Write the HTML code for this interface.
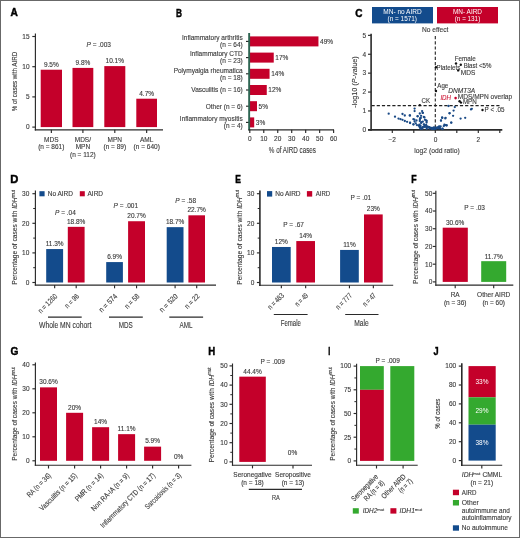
<!DOCTYPE html>
<html><head><meta charset="utf-8"><style>
html,body{margin:0;padding:0;background:#fff;}
svg{display:block;font-family:"Liberation Sans", sans-serif;will-change:transform;}
</style></head><body>
<svg width="520" height="538" viewBox="0 0 520 538">
<rect x="0" y="0" width="520" height="538" fill="#fff"/>
<text transform="translate(10.52 16.13) scale(1.010 1)" x="0" y="0" font-size="10.04" font-weight="bold" fill="#000" stroke="#000" stroke-width="0.45">A</text>
<line x1="35.40" y1="33.50" x2="35.40" y2="130.40" stroke="#2a2a2a" stroke-width="1.15"/>
<line x1="32.30" y1="127.10" x2="35.40" y2="127.10" stroke="#2a2a2a" stroke-width="1.15"/>
<text x="29.60" y="129.44" font-size="6.5" text-anchor="end" fill="#3a3a3a" stroke="#3a3a3a" stroke-width="0.12">0</text>
<line x1="32.30" y1="96.90" x2="35.40" y2="96.90" stroke="#2a2a2a" stroke-width="1.15"/>
<text x="29.60" y="99.24" font-size="6.5" text-anchor="end" fill="#3a3a3a" stroke="#3a3a3a" stroke-width="0.12">5</text>
<line x1="32.30" y1="66.70" x2="35.40" y2="66.70" stroke="#2a2a2a" stroke-width="1.15"/>
<text x="29.60" y="69.04" font-size="6.5" text-anchor="end" fill="#3a3a3a" stroke="#3a3a3a" stroke-width="0.12">10</text>
<line x1="32.30" y1="36.50" x2="35.40" y2="36.50" stroke="#2a2a2a" stroke-width="1.15"/>
<text x="29.60" y="38.84" font-size="6.5" text-anchor="end" fill="#3a3a3a" stroke="#3a3a3a" stroke-width="0.12">15</text>
<text x="14.50" y="84.30" font-size="7.5" text-anchor="middle" fill="#3a3a3a" stroke="#3a3a3a" stroke-width="0.12" textLength="59.50" lengthAdjust="spacingAndGlyphs" transform="rotate(-90 14.50 81.60)">% of cases with AIRD</text>
<line x1="34.80" y1="129.85" x2="163.00" y2="129.85" stroke="#2a2a2a" stroke-width="1.15"/>
<rect x="40.70" y="69.72" width="21.30" height="57.38" fill="#C4002A"/>
<line x1="51.35" y1="129.85" x2="51.35" y2="132.90" stroke="#2a2a2a" stroke-width="1.15"/>
<text x="51.35" y="66.56" font-size="6.5" text-anchor="middle" fill="#3a3a3a" stroke="#3a3a3a" stroke-width="0.12">9.5%</text>
<rect x="72.50" y="67.91" width="20.80" height="59.19" fill="#C4002A"/>
<line x1="82.90" y1="129.85" x2="82.90" y2="132.90" stroke="#2a2a2a" stroke-width="1.15"/>
<text x="82.90" y="64.75" font-size="6.5" text-anchor="middle" fill="#3a3a3a" stroke="#3a3a3a" stroke-width="0.12">9.8%</text>
<rect x="104.30" y="66.10" width="21.00" height="61.00" fill="#C4002A"/>
<line x1="114.80" y1="129.85" x2="114.80" y2="132.90" stroke="#2a2a2a" stroke-width="1.15"/>
<text x="114.80" y="62.94" font-size="6.5" text-anchor="middle" fill="#3a3a3a" stroke="#3a3a3a" stroke-width="0.12">10.1%</text>
<rect x="136.30" y="98.71" width="20.70" height="28.39" fill="#C4002A"/>
<line x1="146.65" y1="129.85" x2="146.65" y2="132.90" stroke="#2a2a2a" stroke-width="1.15"/>
<text x="146.65" y="95.55" font-size="6.5" text-anchor="middle" fill="#3a3a3a" stroke="#3a3a3a" stroke-width="0.12">4.7%</text>
<text x="51.30" y="141.74" font-size="6.5" text-anchor="middle" fill="#3a3a3a" stroke="#3a3a3a" stroke-width="0.12">MDS</text>
<text x="51.30" y="149.04" font-size="6.5" text-anchor="middle" fill="#3a3a3a" stroke="#3a3a3a" stroke-width="0.12">(n = 861)</text>
<text x="82.90" y="141.74" font-size="6.5" text-anchor="middle" fill="#3a3a3a" stroke="#3a3a3a" stroke-width="0.12">MDS/</text>
<text x="82.90" y="149.04" font-size="6.5" text-anchor="middle" fill="#3a3a3a" stroke="#3a3a3a" stroke-width="0.12">MPN</text>
<text x="82.90" y="156.54" font-size="6.5" text-anchor="middle" fill="#3a3a3a" stroke="#3a3a3a" stroke-width="0.12">(n = 112)</text>
<text x="114.80" y="141.74" font-size="6.5" text-anchor="middle" fill="#3a3a3a" stroke="#3a3a3a" stroke-width="0.12">MPN</text>
<text x="114.80" y="149.04" font-size="6.5" text-anchor="middle" fill="#3a3a3a" stroke="#3a3a3a" stroke-width="0.12">(n = 89)</text>
<text x="146.70" y="141.74" font-size="6.5" text-anchor="middle" fill="#3a3a3a" stroke="#3a3a3a" stroke-width="0.12">AML</text>
<text x="146.70" y="149.04" font-size="6.5" text-anchor="middle" fill="#3a3a3a" stroke="#3a3a3a" stroke-width="0.12">(n = 640)</text>
<text x="98.75" y="46.84" font-size="6.5" text-anchor="middle" fill="#3a3a3a" stroke="#3a3a3a" stroke-width="0.12"><tspan font-style="italic">P</tspan> = .003</text>
<text transform="translate(175.96 16.53) scale(0.755 1)" x="0" y="0" font-size="10.99" font-weight="bold" fill="#000" stroke="#000" stroke-width="0.45">B</text>
<rect x="250.00" y="36.40" width="68.45" height="10.00" fill="#C4002A"/>
<line x1="246.00" y1="41.40" x2="249.00" y2="41.40" stroke="#2a2a2a" stroke-width="1.15"/>
<text x="320.05" y="43.74" font-size="6.5" text-anchor="start" fill="#3a3a3a" stroke="#3a3a3a" stroke-width="0.12">49%</text>
<text x="242.70" y="40.24" font-size="6.5" text-anchor="end" fill="#3a3a3a" stroke="#3a3a3a" stroke-width="0.12">Inflammatory arthritis</text>
<text x="242.70" y="47.24" font-size="6.5" text-anchor="end" fill="#3a3a3a" stroke="#3a3a3a" stroke-width="0.12">(n = 64)</text>
<rect x="250.00" y="52.60" width="23.75" height="10.00" fill="#C4002A"/>
<line x1="246.00" y1="57.60" x2="249.00" y2="57.60" stroke="#2a2a2a" stroke-width="1.15"/>
<text x="275.35" y="59.94" font-size="6.5" text-anchor="start" fill="#3a3a3a" stroke="#3a3a3a" stroke-width="0.12">17%</text>
<text x="242.70" y="56.44" font-size="6.5" text-anchor="end" fill="#3a3a3a" stroke="#3a3a3a" stroke-width="0.12">Inflammatory CTD</text>
<text x="242.70" y="63.44" font-size="6.5" text-anchor="end" fill="#3a3a3a" stroke="#3a3a3a" stroke-width="0.12">(n = 23)</text>
<rect x="250.00" y="68.80" width="19.56" height="10.00" fill="#C4002A"/>
<line x1="246.00" y1="73.80" x2="249.00" y2="73.80" stroke="#2a2a2a" stroke-width="1.15"/>
<text x="271.16" y="76.14" font-size="6.5" text-anchor="start" fill="#3a3a3a" stroke="#3a3a3a" stroke-width="0.12">14%</text>
<text x="242.70" y="72.64" font-size="6.5" text-anchor="end" fill="#3a3a3a" stroke="#3a3a3a" stroke-width="0.12">Polymyalgia rheumatica</text>
<text x="242.70" y="79.64" font-size="6.5" text-anchor="end" fill="#3a3a3a" stroke="#3a3a3a" stroke-width="0.12">(n = 18)</text>
<rect x="250.00" y="85.00" width="16.76" height="10.00" fill="#C4002A"/>
<line x1="246.00" y1="90.00" x2="249.00" y2="90.00" stroke="#2a2a2a" stroke-width="1.15"/>
<text x="268.36" y="92.34" font-size="6.5" text-anchor="start" fill="#3a3a3a" stroke="#3a3a3a" stroke-width="0.12">12%</text>
<text x="242.70" y="92.34" font-size="6.5" text-anchor="end" fill="#3a3a3a" stroke="#3a3a3a" stroke-width="0.12">Vasculitis (n = 16)</text>
<rect x="250.00" y="101.20" width="6.99" height="10.00" fill="#C4002A"/>
<line x1="246.00" y1="106.20" x2="249.00" y2="106.20" stroke="#2a2a2a" stroke-width="1.15"/>
<text x="258.59" y="108.54" font-size="6.5" text-anchor="start" fill="#3a3a3a" stroke="#3a3a3a" stroke-width="0.12">5%</text>
<text x="242.70" y="108.54" font-size="6.5" text-anchor="end" fill="#3a3a3a" stroke="#3a3a3a" stroke-width="0.12">Other (n = 6)</text>
<rect x="250.00" y="117.40" width="4.19" height="10.00" fill="#C4002A"/>
<line x1="246.00" y1="122.40" x2="249.00" y2="122.40" stroke="#2a2a2a" stroke-width="1.15"/>
<text x="255.79" y="124.74" font-size="6.5" text-anchor="start" fill="#3a3a3a" stroke="#3a3a3a" stroke-width="0.12">3%</text>
<text x="242.70" y="121.24" font-size="6.5" text-anchor="end" fill="#3a3a3a" stroke="#3a3a3a" stroke-width="0.12">Inflammatory myositis</text>
<text x="242.70" y="128.24" font-size="6.5" text-anchor="end" fill="#3a3a3a" stroke="#3a3a3a" stroke-width="0.12">(n = 4)</text>
<line x1="249.15" y1="33.00" x2="249.15" y2="130.50" stroke="#2d6552" stroke-width="1.9"/>
<line x1="248.50" y1="129.85" x2="334.00" y2="129.85" stroke="#2a2a2a" stroke-width="1.15"/>
<line x1="249.80" y1="129.85" x2="249.80" y2="132.90" stroke="#2a2a2a" stroke-width="1.15"/>
<text x="249.80" y="141.34" font-size="6.5" text-anchor="middle" fill="#3a3a3a" stroke="#3a3a3a" stroke-width="0.12">0</text>
<line x1="263.77" y1="129.85" x2="263.77" y2="132.90" stroke="#2a2a2a" stroke-width="1.15"/>
<text x="263.77" y="141.34" font-size="6.5" text-anchor="middle" fill="#3a3a3a" stroke="#3a3a3a" stroke-width="0.12">10</text>
<line x1="277.74" y1="129.85" x2="277.74" y2="132.90" stroke="#2a2a2a" stroke-width="1.15"/>
<text x="277.74" y="141.34" font-size="6.5" text-anchor="middle" fill="#3a3a3a" stroke="#3a3a3a" stroke-width="0.12">20</text>
<line x1="291.71" y1="129.85" x2="291.71" y2="132.90" stroke="#2a2a2a" stroke-width="1.15"/>
<text x="291.71" y="141.34" font-size="6.5" text-anchor="middle" fill="#3a3a3a" stroke="#3a3a3a" stroke-width="0.12">30</text>
<line x1="305.68" y1="129.85" x2="305.68" y2="132.90" stroke="#2a2a2a" stroke-width="1.15"/>
<text x="305.68" y="141.34" font-size="6.5" text-anchor="middle" fill="#3a3a3a" stroke="#3a3a3a" stroke-width="0.12">40</text>
<line x1="319.65" y1="129.85" x2="319.65" y2="132.90" stroke="#2a2a2a" stroke-width="1.15"/>
<text x="319.65" y="141.34" font-size="6.5" text-anchor="middle" fill="#3a3a3a" stroke="#3a3a3a" stroke-width="0.12">50</text>
<line x1="333.62" y1="129.85" x2="333.62" y2="132.90" stroke="#2a2a2a" stroke-width="1.15"/>
<text x="333.62" y="141.34" font-size="6.5" text-anchor="middle" fill="#3a3a3a" stroke="#3a3a3a" stroke-width="0.12">60</text>
<text x="292.40" y="153.46" font-size="8.5" text-anchor="middle" fill="#3a3a3a" stroke="#3a3a3a" stroke-width="0.12" textLength="47.20" lengthAdjust="spacingAndGlyphs">% of AIRD cases</text>
<text transform="translate(355.31 16.63) scale(0.901 1)" x="0" y="0" font-size="11.13" font-weight="bold" fill="#000" stroke="#000" stroke-width="0.45">C</text>
<rect x="372.00" y="7.00" width="61.00" height="16.40" fill="#134B8C"/>
<rect x="437.00" y="7.00" width="61.00" height="16.40" fill="#C4002A"/>
<text x="402.50" y="14.14" font-size="6.5" text-anchor="middle" fill="#fff" stroke="#fff" stroke-width="0" textLength="38.40" lengthAdjust="spacingAndGlyphs">MN- no AIRD</text>
<text x="402.30" y="20.74" font-size="6.5" text-anchor="middle" fill="#fff" stroke="#fff" stroke-width="0" textLength="29.40" lengthAdjust="spacingAndGlyphs">(n = 1571)</text>
<text x="467.50" y="14.14" font-size="6.5" text-anchor="middle" fill="#fff" stroke="#fff" stroke-width="0" textLength="29.00" lengthAdjust="spacingAndGlyphs">MN- AIRD</text>
<text x="467.50" y="20.74" font-size="6.5" text-anchor="middle" fill="#fff" stroke="#fff" stroke-width="0" textLength="25.50" lengthAdjust="spacingAndGlyphs">(n = 131)</text>
<text x="435.20" y="31.74" font-size="6.5" text-anchor="middle" fill="#3a3a3a" stroke="#3a3a3a" stroke-width="0.12" textLength="26.30" lengthAdjust="spacingAndGlyphs">No effect</text>
<line x1="371.10" y1="33.70" x2="371.10" y2="130.70" stroke="#2a2a2a" stroke-width="1.6"/>
<line x1="368.00" y1="129.85" x2="371.10" y2="129.85" stroke="#2a2a2a" stroke-width="1.15"/>
<text x="366.00" y="132.19" font-size="6.5" text-anchor="end" fill="#3a3a3a" stroke="#3a3a3a" stroke-width="0.12">0</text>
<line x1="368.00" y1="110.95" x2="371.10" y2="110.95" stroke="#2a2a2a" stroke-width="1.15"/>
<text x="366.00" y="113.29" font-size="6.5" text-anchor="end" fill="#3a3a3a" stroke="#3a3a3a" stroke-width="0.12">1</text>
<line x1="368.00" y1="92.05" x2="371.10" y2="92.05" stroke="#2a2a2a" stroke-width="1.15"/>
<text x="366.00" y="94.39" font-size="6.5" text-anchor="end" fill="#3a3a3a" stroke="#3a3a3a" stroke-width="0.12">2</text>
<line x1="368.00" y1="73.15" x2="371.10" y2="73.15" stroke="#2a2a2a" stroke-width="1.15"/>
<text x="366.00" y="75.49" font-size="6.5" text-anchor="end" fill="#3a3a3a" stroke="#3a3a3a" stroke-width="0.12">3</text>
<line x1="368.00" y1="54.25" x2="371.10" y2="54.25" stroke="#2a2a2a" stroke-width="1.15"/>
<text x="366.00" y="56.59" font-size="6.5" text-anchor="end" fill="#3a3a3a" stroke="#3a3a3a" stroke-width="0.12">4</text>
<line x1="368.00" y1="35.35" x2="371.10" y2="35.35" stroke="#2a2a2a" stroke-width="1.15"/>
<text x="366.00" y="37.69" font-size="6.5" text-anchor="end" fill="#3a3a3a" stroke="#3a3a3a" stroke-width="0.12">5</text>
<text x="354.70" y="84.52" font-size="7" text-anchor="middle" fill="#3a3a3a" stroke="#3a3a3a" stroke-width="0.12" textLength="51.50" lengthAdjust="spacingAndGlyphs" transform="rotate(-90 354.70 82.00)">-log10 (<tspan font-style="italic">P</tspan>-value)</text>
<line x1="368.00" y1="129.85" x2="502.30" y2="129.85" stroke="#2a2a2a" stroke-width="1.6"/>
<line x1="392.30" y1="129.85" x2="392.30" y2="133.00" stroke="#2a2a2a" stroke-width="1.15"/>
<line x1="413.80" y1="129.85" x2="413.80" y2="133.00" stroke="#2a2a2a" stroke-width="1.15"/>
<line x1="435.30" y1="129.85" x2="435.30" y2="133.00" stroke="#2a2a2a" stroke-width="1.15"/>
<line x1="456.80" y1="129.85" x2="456.80" y2="133.00" stroke="#2a2a2a" stroke-width="1.15"/>
<line x1="478.30" y1="129.85" x2="478.30" y2="133.00" stroke="#2a2a2a" stroke-width="1.15"/>
<line x1="499.80" y1="129.85" x2="499.80" y2="133.00" stroke="#2a2a2a" stroke-width="1.15"/>
<text x="392.30" y="142.34" font-size="6.5" text-anchor="middle" fill="#3a3a3a" stroke="#3a3a3a" stroke-width="0.12">−2</text>
<text x="435.60" y="142.34" font-size="6.5" text-anchor="middle" fill="#3a3a3a" stroke="#3a3a3a" stroke-width="0.12">0</text>
<text x="478.30" y="142.34" font-size="6.5" text-anchor="middle" fill="#3a3a3a" stroke="#3a3a3a" stroke-width="0.12">2</text>
<text x="437.00" y="153.38" font-size="8" text-anchor="middle" fill="#3a3a3a" stroke="#3a3a3a" stroke-width="0.12" textLength="45.50" lengthAdjust="spacingAndGlyphs">log2 (odd ratio)</text>
<line x1="435.30" y1="36.00" x2="435.30" y2="130.00" stroke="#222" stroke-width="1.1" stroke-dasharray="3.2 2"/>
<line x1="371.50" y1="105.60" x2="499.50" y2="105.60" stroke="#222" stroke-width="1.1" stroke-dasharray="3.2 2"/>
<circle cx="388.70" cy="113.70" r="1.15" fill="#1a4a86"/>
<circle cx="395.00" cy="116.70" r="1.15" fill="#1a4a86"/>
<circle cx="398.50" cy="118.60" r="1.15" fill="#1a4a86"/>
<circle cx="400.50" cy="119.20" r="1.15" fill="#1a4a86"/>
<circle cx="402.50" cy="119.80" r="1.15" fill="#1a4a86"/>
<circle cx="404.80" cy="121.00" r="1.15" fill="#1a4a86"/>
<circle cx="407.10" cy="121.80" r="1.15" fill="#1a4a86"/>
<circle cx="410.00" cy="122.70" r="1.15" fill="#1a4a86"/>
<circle cx="402.50" cy="114.00" r="1.15" fill="#1a4a86"/>
<circle cx="404.80" cy="115.50" r="1.15" fill="#1a4a86"/>
<circle cx="410.00" cy="115.50" r="1.15" fill="#1a4a86"/>
<circle cx="414.60" cy="108.60" r="1.15" fill="#1a4a86"/>
<circle cx="414.60" cy="111.10" r="1.15" fill="#1a4a86"/>
<circle cx="413.40" cy="119.20" r="1.15" fill="#1a4a86"/>
<circle cx="414.60" cy="121.50" r="1.15" fill="#1a4a86"/>
<circle cx="413.40" cy="124.40" r="1.15" fill="#1a4a86"/>
<circle cx="415.80" cy="123.30" r="1.15" fill="#1a4a86"/>
<circle cx="417.50" cy="116.30" r="1.15" fill="#1a4a86"/>
<circle cx="419.80" cy="113.50" r="1.15" fill="#1a4a86"/>
<circle cx="420.40" cy="118.00" r="1.15" fill="#1a4a86"/>
<circle cx="419.80" cy="121.00" r="1.15" fill="#1a4a86"/>
<circle cx="418.60" cy="125.60" r="1.15" fill="#1a4a86"/>
<circle cx="422.10" cy="111.10" r="1.15" fill="#1a4a86"/>
<circle cx="422.70" cy="112.90" r="1.15" fill="#1a4a86"/>
<circle cx="423.80" cy="116.90" r="1.15" fill="#1a4a86"/>
<circle cx="421.50" cy="122.10" r="1.15" fill="#1a4a86"/>
<circle cx="425.00" cy="119.80" r="1.15" fill="#1a4a86"/>
<circle cx="426.70" cy="121.00" r="1.15" fill="#1a4a86"/>
<circle cx="423.80" cy="124.40" r="1.15" fill="#1a4a86"/>
<circle cx="426.10" cy="125.00" r="1.15" fill="#1a4a86"/>
<circle cx="448.50" cy="106.00" r="1.15" fill="#1a4a86"/>
<circle cx="454.80" cy="107.10" r="1.15" fill="#1a4a86"/>
<circle cx="453.60" cy="110.60" r="1.15" fill="#1a4a86"/>
<circle cx="449.60" cy="113.20" r="1.15" fill="#1a4a86"/>
<circle cx="453.10" cy="115.80" r="1.15" fill="#1a4a86"/>
<circle cx="442.10" cy="117.50" r="1.15" fill="#1a4a86"/>
<circle cx="445.60" cy="117.80" r="1.15" fill="#1a4a86"/>
<circle cx="441.00" cy="120.60" r="1.15" fill="#1a4a86"/>
<circle cx="451.30" cy="122.70" r="1.15" fill="#1a4a86"/>
<circle cx="460.60" cy="118.60" r="1.15" fill="#1a4a86"/>
<circle cx="465.20" cy="117.80" r="1.15" fill="#1a4a86"/>
<circle cx="471.00" cy="109.40" r="1.15" fill="#1a4a86"/>
<circle cx="471.80" cy="108.80" r="1.15" fill="#1a4a86"/>
<circle cx="445.00" cy="125.20" r="1.15" fill="#1a4a86"/>
<circle cx="446.70" cy="125.60" r="1.15" fill="#1a4a86"/>
<circle cx="443.80" cy="126.10" r="1.15" fill="#1a4a86"/>
<circle cx="439.20" cy="127.30" r="1.15" fill="#1a4a86"/>
<circle cx="409.70" cy="115.40" r="1.15" fill="#1a4a86"/>
<circle cx="417.70" cy="116.20" r="1.15" fill="#1a4a86"/>
<circle cx="421.10" cy="115.80" r="1.15" fill="#1a4a86"/>
<circle cx="420.70" cy="117.90" r="1.15" fill="#1a4a86"/>
<circle cx="424.50" cy="117.50" r="1.15" fill="#1a4a86"/>
<circle cx="414.40" cy="119.60" r="1.15" fill="#1a4a86"/>
<circle cx="416.50" cy="120.50" r="1.15" fill="#1a4a86"/>
<circle cx="419.90" cy="119.20" r="1.15" fill="#1a4a86"/>
<circle cx="422.80" cy="121.70" r="1.15" fill="#1a4a86"/>
<circle cx="426.20" cy="120.50" r="1.15" fill="#1a4a86"/>
<circle cx="426.60" cy="122.60" r="1.15" fill="#1a4a86"/>
<circle cx="410.10" cy="123.00" r="1.15" fill="#1a4a86"/>
<circle cx="413.50" cy="124.30" r="1.15" fill="#1a4a86"/>
<circle cx="416.90" cy="125.10" r="1.15" fill="#1a4a86"/>
<circle cx="419.40" cy="124.70" r="1.15" fill="#1a4a86"/>
<circle cx="421.10" cy="123.00" r="1.15" fill="#1a4a86"/>
<circle cx="424.10" cy="124.70" r="1.15" fill="#1a4a86"/>
<circle cx="424.90" cy="126.00" r="1.15" fill="#1a4a86"/>
<circle cx="427.50" cy="126.40" r="1.15" fill="#1a4a86"/>
<circle cx="429.60" cy="127.30" r="1.15" fill="#1a4a86"/>
<circle cx="431.70" cy="128.10" r="1.15" fill="#1a4a86"/>
<circle cx="433.40" cy="127.70" r="1.15" fill="#1a4a86"/>
<circle cx="436.80" cy="127.70" r="1.15" fill="#1a4a86"/>
<circle cx="438.90" cy="126.80" r="1.15" fill="#1a4a86"/>
<circle cx="440.60" cy="126.40" r="1.15" fill="#1a4a86"/>
<circle cx="444.40" cy="124.70" r="1.15" fill="#1a4a86"/>
<circle cx="446.60" cy="125.10" r="1.15" fill="#1a4a86"/>
<circle cx="441.00" cy="120.50" r="1.15" fill="#1a4a86"/>
<circle cx="442.30" cy="117.90" r="1.15" fill="#1a4a86"/>
<circle cx="445.30" cy="118.40" r="1.15" fill="#1a4a86"/>
<circle cx="451.20" cy="122.60" r="1.15" fill="#1a4a86"/>
<circle cx="449.50" cy="113.30" r="1.15" fill="#1a4a86"/>
<circle cx="422.80" cy="112.80" r="1.15" fill="#1a4a86"/>
<circle cx="426.77" cy="128.74" r="1.15" fill="#1a4a86"/>
<circle cx="434.62" cy="129.08" r="1.15" fill="#1a4a86"/>
<circle cx="431.86" cy="128.64" r="1.15" fill="#1a4a86"/>
<circle cx="420.39" cy="126.67" r="1.15" fill="#1a4a86"/>
<circle cx="419.90" cy="126.98" r="1.15" fill="#1a4a86"/>
<circle cx="420.68" cy="128.76" r="1.15" fill="#1a4a86"/>
<circle cx="429.19" cy="127.26" r="1.15" fill="#1a4a86"/>
<circle cx="421.97" cy="128.19" r="1.15" fill="#1a4a86"/>
<circle cx="434.06" cy="127.76" r="1.15" fill="#1a4a86"/>
<circle cx="432.85" cy="128.71" r="1.15" fill="#1a4a86"/>
<circle cx="442.43" cy="129.01" r="1.15" fill="#1a4a86"/>
<circle cx="439.60" cy="128.28" r="1.15" fill="#1a4a86"/>
<circle cx="422.46" cy="128.69" r="1.15" fill="#1a4a86"/>
<circle cx="426.40" cy="126.61" r="1.15" fill="#1a4a86"/>
<circle cx="423.34" cy="126.82" r="1.15" fill="#1a4a86"/>
<circle cx="434.33" cy="128.60" r="1.15" fill="#1a4a86"/>
<circle cx="432.15" cy="129.11" r="1.15" fill="#1a4a86"/>
<circle cx="420.43" cy="128.18" r="1.15" fill="#1a4a86"/>
<circle cx="435.33" cy="128.39" r="1.15" fill="#1a4a86"/>
<circle cx="426.54" cy="127.36" r="1.15" fill="#1a4a86"/>
<circle cx="429.88" cy="128.56" r="1.15" fill="#1a4a86"/>
<circle cx="438.07" cy="127.30" r="1.15" fill="#1a4a86"/>
<circle cx="424.86" cy="127.11" r="1.15" fill="#1a4a86"/>
<circle cx="431.60" cy="127.78" r="1.15" fill="#1a4a86"/>
<circle cx="436.51" cy="128.55" r="1.15" fill="#1a4a86"/>
<circle cx="442.52" cy="128.72" r="1.15" fill="#1a4a86"/>
<circle cx="429.03" cy="127.39" r="1.15" fill="#1a4a86"/>
<circle cx="422.65" cy="127.09" r="1.15" fill="#1a4a86"/>
<circle cx="419.94" cy="125.78" r="1.15" fill="#1a4a86"/>
<circle cx="437.35" cy="127.76" r="1.15" fill="#1a4a86"/>
<circle cx="440.01" cy="128.16" r="1.15" fill="#1a4a86"/>
<circle cx="435.69" cy="128.01" r="1.15" fill="#1a4a86"/>
<circle cx="432.92" cy="128.64" r="1.15" fill="#1a4a86"/>
<circle cx="439.16" cy="126.32" r="1.15" fill="#1a4a86"/>
<circle cx="430.38" cy="127.88" r="1.15" fill="#1a4a86"/>
<circle cx="420.46" cy="125.72" r="1.15" fill="#1a4a86"/>
<circle cx="434.53" cy="127.55" r="1.15" fill="#1a4a86"/>
<circle cx="438.73" cy="128.37" r="1.15" fill="#1a4a86"/>
<circle cx="428.26" cy="127.45" r="1.15" fill="#1a4a86"/>
<circle cx="419.54" cy="126.78" r="1.15" fill="#1a4a86"/>
<circle cx="456.00" cy="63.50" r="1.2" fill="#111"/>
<circle cx="460.80" cy="64.70" r="1.2" fill="#111"/>
<circle cx="436.00" cy="67.30" r="1.2" fill="#111"/>
<circle cx="458.20" cy="70.40" r="1.2" fill="#111"/>
<circle cx="436.00" cy="91.00" r="1.2" fill="#111"/>
<circle cx="419.80" cy="105.10" r="1.2" fill="#111"/>
<circle cx="482.50" cy="110.00" r="1.2" fill="#111"/>
<circle cx="459.60" cy="101.20" r="1.2" fill="#111"/>
<circle cx="461.00" cy="102.60" r="1.2" fill="#111"/>
<circle cx="455.60" cy="98.10" r="1.3" fill="#C4002A"/>
<text x="454.70" y="61.34" font-size="6.5" text-anchor="start" fill="#3a3a3a" stroke="#3a3a3a" stroke-width="0.12" textLength="21.00" lengthAdjust="spacingAndGlyphs">Female</text>
<text x="463.70" y="67.94" font-size="6.5" text-anchor="start" fill="#3a3a3a" stroke="#3a3a3a" stroke-width="0.12" textLength="27.70" lengthAdjust="spacingAndGlyphs">Blast &lt;5%</text>
<text x="436.50" y="69.64" font-size="6.5" text-anchor="start" fill="#3a3a3a" stroke="#3a3a3a" stroke-width="0.12" textLength="23.80" lengthAdjust="spacingAndGlyphs">Platelets</text>
<text x="460.80" y="74.84" font-size="6.5" text-anchor="start" fill="#3a3a3a" stroke="#3a3a3a" stroke-width="0.12" textLength="14.50" lengthAdjust="spacingAndGlyphs">MDS</text>
<text x="437.30" y="88.14" font-size="6.5" text-anchor="start" fill="#3a3a3a" stroke="#3a3a3a" stroke-width="0.12" textLength="10.90" lengthAdjust="spacingAndGlyphs">Age</text>
<text x="448.20" y="93.04" font-size="6.5" text-anchor="start" fill="#3a3a3a" stroke="#3a3a3a" stroke-width="0.12" textLength="27.00" lengthAdjust="spacingAndGlyphs" font-style="italic">DNMT3A</text>
<text x="440.40" y="100.44" font-size="6.5" text-anchor="start" fill="#d0223f" stroke="#d0223f" stroke-width="0.12" textLength="10.70" lengthAdjust="spacingAndGlyphs" font-style="italic">IDH</text>
<text x="457.70" y="98.74" font-size="6.5" text-anchor="start" fill="#3a3a3a" stroke="#3a3a3a" stroke-width="0.12" textLength="54.50" lengthAdjust="spacingAndGlyphs">MDS/MPN overlap</text>
<text x="462.90" y="104.14" font-size="6.5" text-anchor="start" fill="#3a3a3a" stroke="#3a3a3a" stroke-width="0.12" textLength="13.80" lengthAdjust="spacingAndGlyphs">MPN</text>
<text x="484.60" y="112.04" font-size="6.5" text-anchor="start" fill="#3a3a3a" stroke="#3a3a3a" stroke-width="0.12" textLength="19.90" lengthAdjust="spacingAndGlyphs">P &lt; .05</text>
<text x="421.50" y="102.84" font-size="6.5" text-anchor="start" fill="#3a3a3a" stroke="#3a3a3a" stroke-width="0.12" textLength="8.50" lengthAdjust="spacingAndGlyphs">CK</text>
<text transform="translate(10.27 183.13) scale(1.091 1)" x="0" y="0" font-size="10.26" font-weight="bold" fill="#000" stroke="#000" stroke-width="0.45">D</text>
<line x1="35.40" y1="190.50" x2="35.40" y2="285.60" stroke="#2a2a2a" stroke-width="1.15"/>
<line x1="32.40" y1="282.50" x2="35.40" y2="282.50" stroke="#2a2a2a" stroke-width="1.15"/>
<text x="29.30" y="284.84" font-size="6.5" text-anchor="end" fill="#3a3a3a" stroke="#3a3a3a" stroke-width="0.12">0</text>
<line x1="32.40" y1="252.90" x2="35.40" y2="252.90" stroke="#2a2a2a" stroke-width="1.15"/>
<text x="29.30" y="255.24" font-size="6.5" text-anchor="end" fill="#3a3a3a" stroke="#3a3a3a" stroke-width="0.12">10</text>
<line x1="32.40" y1="223.30" x2="35.40" y2="223.30" stroke="#2a2a2a" stroke-width="1.15"/>
<text x="29.30" y="225.64" font-size="6.5" text-anchor="end" fill="#3a3a3a" stroke="#3a3a3a" stroke-width="0.12">20</text>
<line x1="32.40" y1="193.70" x2="35.40" y2="193.70" stroke="#2a2a2a" stroke-width="1.15"/>
<text x="29.30" y="196.04" font-size="6.5" text-anchor="end" fill="#3a3a3a" stroke="#3a3a3a" stroke-width="0.12">30</text>
<line x1="33.20" y1="267.70" x2="35.40" y2="267.70" stroke="#2a2a2a" stroke-width="1.0"/>
<line x1="33.20" y1="238.10" x2="35.40" y2="238.10" stroke="#2a2a2a" stroke-width="1.0"/>
<line x1="33.20" y1="208.50" x2="35.40" y2="208.50" stroke="#2a2a2a" stroke-width="1.0"/>
<text x="14.50" y="240.03" font-size="7.3" text-anchor="middle" fill="#3a3a3a" stroke="#3a3a3a" stroke-width="0.12" textLength="94.70" lengthAdjust="spacingAndGlyphs" transform="rotate(-90 14.50 237.40)">Percentage of cases with <tspan font-style="italic">IDH</tspan><tspan font-size="4.8" dy="-2.6">mut</tspan></text>
<rect x="39.40" y="191.20" width="5.20" height="5.10" fill="#134B8C"/>
<text x="47.70" y="196.14" font-size="6.5" text-anchor="start" fill="#3a3a3a" stroke="#3a3a3a" stroke-width="0.12" textLength="25.30" lengthAdjust="spacingAndGlyphs">No AIRD</text>
<rect x="79.80" y="191.20" width="5.00" height="5.10" fill="#C4002A"/>
<text x="87.50" y="196.14" font-size="6.5" text-anchor="start" fill="#3a3a3a" stroke="#3a3a3a" stroke-width="0.12" textLength="15.50" lengthAdjust="spacingAndGlyphs">AIRD</text>
<line x1="34.80" y1="285.10" x2="216.00" y2="285.10" stroke="#2a2a2a" stroke-width="1.15"/>
<rect x="46.20" y="249.05" width="16.90" height="33.45" fill="#134B8C"/>
<line x1="54.65" y1="285.10" x2="54.65" y2="288.30" stroke="#2a2a2a" stroke-width="1.15"/>
<text x="54.65" y="246.09" font-size="6.5" text-anchor="middle" fill="#3a3a3a" stroke="#3a3a3a" stroke-width="0.12">11.3%</text>
<text x="57.95" y="296.80" font-size="7.5" text-anchor="end" fill="#3a3a3a" stroke="#3a3a3a" stroke-width="0.12" transform="rotate(-45 57.95 296.80)" textLength="24.00" lengthAdjust="spacingAndGlyphs">n = 1260</text>
<rect x="67.80" y="226.85" width="16.80" height="55.65" fill="#C4002A"/>
<line x1="76.20" y1="285.10" x2="76.20" y2="288.30" stroke="#2a2a2a" stroke-width="1.15"/>
<text x="76.20" y="223.89" font-size="6.5" text-anchor="middle" fill="#3a3a3a" stroke="#3a3a3a" stroke-width="0.12">18.8%</text>
<text x="79.50" y="296.80" font-size="7.5" text-anchor="end" fill="#3a3a3a" stroke="#3a3a3a" stroke-width="0.12" transform="rotate(-45 79.50 296.80)" textLength="16.80" lengthAdjust="spacingAndGlyphs">n = 96</text>
<rect x="106.20" y="262.08" width="16.70" height="20.42" fill="#134B8C"/>
<line x1="114.55" y1="285.10" x2="114.55" y2="288.30" stroke="#2a2a2a" stroke-width="1.15"/>
<text x="114.55" y="259.12" font-size="6.5" text-anchor="middle" fill="#3a3a3a" stroke="#3a3a3a" stroke-width="0.12">6.9%</text>
<text x="117.85" y="296.80" font-size="7.5" text-anchor="end" fill="#3a3a3a" stroke="#3a3a3a" stroke-width="0.12" transform="rotate(-45 117.85 296.80)" textLength="22.70" lengthAdjust="spacingAndGlyphs">n = 574</text>
<rect x="128.10" y="221.23" width="16.90" height="61.27" fill="#C4002A"/>
<line x1="136.55" y1="285.10" x2="136.55" y2="288.30" stroke="#2a2a2a" stroke-width="1.15"/>
<text x="136.55" y="218.27" font-size="6.5" text-anchor="middle" fill="#3a3a3a" stroke="#3a3a3a" stroke-width="0.12">20.7%</text>
<text x="139.85" y="296.80" font-size="7.5" text-anchor="end" fill="#3a3a3a" stroke="#3a3a3a" stroke-width="0.12" transform="rotate(-45 139.85 296.80)" textLength="17.60" lengthAdjust="spacingAndGlyphs">n = 58</text>
<rect x="166.70" y="227.15" width="16.80" height="55.35" fill="#134B8C"/>
<line x1="175.10" y1="285.10" x2="175.10" y2="288.30" stroke="#2a2a2a" stroke-width="1.15"/>
<text x="175.10" y="224.19" font-size="6.5" text-anchor="middle" fill="#3a3a3a" stroke="#3a3a3a" stroke-width="0.12">18.7%</text>
<text x="178.40" y="296.80" font-size="7.5" text-anchor="end" fill="#3a3a3a" stroke="#3a3a3a" stroke-width="0.12" transform="rotate(-45 178.40 296.80)" textLength="22.70" lengthAdjust="spacingAndGlyphs">n = 520</text>
<rect x="188.40" y="215.31" width="16.60" height="67.19" fill="#C4002A"/>
<line x1="196.70" y1="285.10" x2="196.70" y2="288.30" stroke="#2a2a2a" stroke-width="1.15"/>
<text x="196.70" y="212.35" font-size="6.5" text-anchor="middle" fill="#3a3a3a" stroke="#3a3a3a" stroke-width="0.12">22.7%</text>
<text x="200.00" y="296.80" font-size="7.5" text-anchor="end" fill="#3a3a3a" stroke="#3a3a3a" stroke-width="0.12" transform="rotate(-45 200.00 296.80)" textLength="17.60" lengthAdjust="spacingAndGlyphs">n = 22</text>
<text x="65.40" y="214.64" font-size="6.5" text-anchor="middle" fill="#3a3a3a" stroke="#3a3a3a" stroke-width="0.12"><tspan font-style="italic">P</tspan> = .04</text>
<text x="125.80" y="208.34" font-size="6.5" text-anchor="middle" fill="#3a3a3a" stroke="#3a3a3a" stroke-width="0.12"><tspan font-style="italic">P</tspan> = .001</text>
<text x="185.70" y="202.64" font-size="6.5" text-anchor="middle" fill="#3a3a3a" stroke="#3a3a3a" stroke-width="0.12"><tspan font-style="italic">P</tspan> = .58</text>
<line x1="48.00" y1="317.10" x2="81.70" y2="317.10" stroke="#2a2a2a" stroke-width="1.15"/>
<text x="65.20" y="328.26" font-size="8.5" text-anchor="middle" fill="#3a3a3a" stroke="#3a3a3a" stroke-width="0.12" textLength="52.30" lengthAdjust="spacingAndGlyphs">Whole MN cohort</text>
<line x1="109.00" y1="317.10" x2="142.80" y2="317.10" stroke="#2a2a2a" stroke-width="1.15"/>
<text x="125.80" y="328.26" font-size="8.5" text-anchor="middle" fill="#3a3a3a" stroke="#3a3a3a" stroke-width="0.12" textLength="14.00" lengthAdjust="spacingAndGlyphs">MDS</text>
<line x1="169.30" y1="317.10" x2="203.10" y2="317.10" stroke="#2a2a2a" stroke-width="1.15"/>
<text x="186.10" y="328.26" font-size="8.5" text-anchor="middle" fill="#3a3a3a" stroke="#3a3a3a" stroke-width="0.12" textLength="13.00" lengthAdjust="spacingAndGlyphs">AML</text>
<text transform="translate(235.15 183.13) scale(0.804 1)" x="0" y="0" font-size="10.55" font-weight="bold" fill="#000" stroke="#000" stroke-width="0.45">E</text>
<line x1="259.90" y1="190.50" x2="259.90" y2="285.90" stroke="#2a2a2a" stroke-width="1.6"/>
<line x1="256.90" y1="282.50" x2="259.90" y2="282.50" stroke="#2a2a2a" stroke-width="1.15"/>
<text x="254.30" y="284.84" font-size="6.5" text-anchor="end" fill="#3a3a3a" stroke="#3a3a3a" stroke-width="0.12">0</text>
<line x1="256.90" y1="252.90" x2="259.90" y2="252.90" stroke="#2a2a2a" stroke-width="1.15"/>
<text x="254.30" y="255.24" font-size="6.5" text-anchor="end" fill="#3a3a3a" stroke="#3a3a3a" stroke-width="0.12">10</text>
<line x1="256.90" y1="223.30" x2="259.90" y2="223.30" stroke="#2a2a2a" stroke-width="1.15"/>
<text x="254.30" y="225.64" font-size="6.5" text-anchor="end" fill="#3a3a3a" stroke="#3a3a3a" stroke-width="0.12">20</text>
<line x1="256.90" y1="193.70" x2="259.90" y2="193.70" stroke="#2a2a2a" stroke-width="1.15"/>
<text x="254.30" y="196.04" font-size="6.5" text-anchor="end" fill="#3a3a3a" stroke="#3a3a3a" stroke-width="0.12">30</text>
<line x1="257.70" y1="267.70" x2="259.90" y2="267.70" stroke="#2a2a2a" stroke-width="1.0"/>
<line x1="257.70" y1="238.10" x2="259.90" y2="238.10" stroke="#2a2a2a" stroke-width="1.0"/>
<line x1="257.70" y1="208.50" x2="259.90" y2="208.50" stroke="#2a2a2a" stroke-width="1.0"/>
<text x="239.00" y="240.03" font-size="7.3" text-anchor="middle" fill="#3a3a3a" stroke="#3a3a3a" stroke-width="0.12" textLength="94.70" lengthAdjust="spacingAndGlyphs" transform="rotate(-90 239.00 237.40)">Percentage of cases with <tspan font-style="italic">IDH</tspan><tspan font-size="4.8" dy="-2.6">mut</tspan></text>
<rect x="267.00" y="191.10" width="5.20" height="5.50" fill="#134B8C"/>
<text x="275.20" y="196.34" font-size="6.5" text-anchor="start" fill="#3a3a3a" stroke="#3a3a3a" stroke-width="0.12" textLength="25.40" lengthAdjust="spacingAndGlyphs">No AIRD</text>
<rect x="306.90" y="191.10" width="5.30" height="5.50" fill="#C4002A"/>
<text x="315.80" y="196.34" font-size="6.5" text-anchor="start" fill="#3a3a3a" stroke="#3a3a3a" stroke-width="0.12" textLength="14.40" lengthAdjust="spacingAndGlyphs">AIRD</text>
<line x1="259.20" y1="285.20" x2="393.20" y2="285.20" stroke="#2a2a2a" stroke-width="1.15"/>
<rect x="272.00" y="246.98" width="18.70" height="35.52" fill="#134B8C"/>
<line x1="281.35" y1="285.20" x2="281.35" y2="288.30" stroke="#2a2a2a" stroke-width="1.15"/>
<text x="281.35" y="244.02" font-size="6.5" text-anchor="middle" fill="#3a3a3a" stroke="#3a3a3a" stroke-width="0.12">12%</text>
<text x="284.45" y="296.00" font-size="7.5" text-anchor="end" fill="#3a3a3a" stroke="#3a3a3a" stroke-width="0.12" transform="rotate(-45 284.45 296.00)" textLength="19.80" lengthAdjust="spacingAndGlyphs">n = 483</text>
<rect x="296.30" y="241.06" width="18.70" height="41.44" fill="#C4002A"/>
<line x1="305.65" y1="285.20" x2="305.65" y2="288.30" stroke="#2a2a2a" stroke-width="1.15"/>
<text x="305.65" y="238.10" font-size="6.5" text-anchor="middle" fill="#3a3a3a" stroke="#3a3a3a" stroke-width="0.12">14%</text>
<text x="308.75" y="296.00" font-size="7.5" text-anchor="end" fill="#3a3a3a" stroke="#3a3a3a" stroke-width="0.12" transform="rotate(-45 308.75 296.00)" textLength="15.40" lengthAdjust="spacingAndGlyphs">n = 49</text>
<rect x="340.10" y="249.94" width="18.70" height="32.56" fill="#134B8C"/>
<line x1="349.45" y1="285.20" x2="349.45" y2="288.30" stroke="#2a2a2a" stroke-width="1.15"/>
<text x="349.45" y="246.98" font-size="6.5" text-anchor="middle" fill="#3a3a3a" stroke="#3a3a3a" stroke-width="0.12">11%</text>
<text x="352.55" y="296.00" font-size="7.5" text-anchor="end" fill="#3a3a3a" stroke="#3a3a3a" stroke-width="0.12" transform="rotate(-45 352.55 296.00)" textLength="19.80" lengthAdjust="spacingAndGlyphs">n = 777</text>
<rect x="364.00" y="214.42" width="18.70" height="68.08" fill="#C4002A"/>
<line x1="373.35" y1="285.20" x2="373.35" y2="288.30" stroke="#2a2a2a" stroke-width="1.15"/>
<text x="373.35" y="211.46" font-size="6.5" text-anchor="middle" fill="#3a3a3a" stroke="#3a3a3a" stroke-width="0.12">23%</text>
<text x="376.45" y="296.00" font-size="7.5" text-anchor="end" fill="#3a3a3a" stroke="#3a3a3a" stroke-width="0.12" transform="rotate(-45 376.45 296.00)" textLength="15.40" lengthAdjust="spacingAndGlyphs">n = 47</text>
<text x="293.60" y="226.94" font-size="6.5" text-anchor="middle" fill="#3a3a3a" stroke="#3a3a3a" stroke-width="0.12">P = .67</text>
<text x="360.90" y="199.84" font-size="6.5" text-anchor="middle" fill="#3a3a3a" stroke="#3a3a3a" stroke-width="0.12">P = .01</text>
<line x1="273.80" y1="314.50" x2="307.60" y2="314.50" stroke="#2a2a2a" stroke-width="1.15"/>
<text x="290.80" y="325.56" font-size="8.5" text-anchor="middle" fill="#3a3a3a" stroke="#3a3a3a" stroke-width="0.12" textLength="20.00" lengthAdjust="spacingAndGlyphs">Female</text>
<line x1="345.20" y1="314.50" x2="378.50" y2="314.50" stroke="#2a2a2a" stroke-width="1.15"/>
<text x="361.50" y="325.56" font-size="8.5" text-anchor="middle" fill="#3a3a3a" stroke="#3a3a3a" stroke-width="0.12" textLength="14.50" lengthAdjust="spacingAndGlyphs">Male</text>
<text transform="translate(411.13 183.13) scale(0.834 1)" x="0" y="0" font-size="10.55" font-weight="bold" fill="#000" stroke="#000" stroke-width="0.45">F</text>
<line x1="435.85" y1="190.80" x2="435.85" y2="285.70" stroke="#2a2a2a" stroke-width="1.15"/>
<line x1="432.85" y1="281.90" x2="435.85" y2="281.90" stroke="#2a2a2a" stroke-width="1.15"/>
<text x="432.30" y="284.24" font-size="6.5" text-anchor="end" fill="#3a3a3a" stroke="#3a3a3a" stroke-width="0.12">0</text>
<line x1="432.85" y1="264.18" x2="435.85" y2="264.18" stroke="#2a2a2a" stroke-width="1.15"/>
<text x="432.30" y="266.52" font-size="6.5" text-anchor="end" fill="#3a3a3a" stroke="#3a3a3a" stroke-width="0.12">10</text>
<line x1="432.85" y1="246.46" x2="435.85" y2="246.46" stroke="#2a2a2a" stroke-width="1.15"/>
<text x="432.30" y="248.80" font-size="6.5" text-anchor="end" fill="#3a3a3a" stroke="#3a3a3a" stroke-width="0.12">20</text>
<line x1="432.85" y1="228.74" x2="435.85" y2="228.74" stroke="#2a2a2a" stroke-width="1.15"/>
<text x="432.30" y="231.08" font-size="6.5" text-anchor="end" fill="#3a3a3a" stroke="#3a3a3a" stroke-width="0.12">30</text>
<line x1="432.85" y1="211.02" x2="435.85" y2="211.02" stroke="#2a2a2a" stroke-width="1.15"/>
<text x="432.30" y="213.36" font-size="6.5" text-anchor="end" fill="#3a3a3a" stroke="#3a3a3a" stroke-width="0.12">40</text>
<line x1="432.85" y1="193.30" x2="435.85" y2="193.30" stroke="#2a2a2a" stroke-width="1.15"/>
<text x="432.30" y="195.64" font-size="6.5" text-anchor="end" fill="#3a3a3a" stroke="#3a3a3a" stroke-width="0.12">50</text>
<text x="415.00" y="239.63" font-size="7.3" text-anchor="middle" fill="#3a3a3a" stroke="#3a3a3a" stroke-width="0.12" textLength="94.00" lengthAdjust="spacingAndGlyphs" transform="rotate(-90 415.00 237.00)">Percentage of cases with <tspan font-style="italic">IDH</tspan><tspan font-size="4.8" dy="-2.6">mut</tspan></text>
<line x1="435.30" y1="285.10" x2="513.30" y2="285.10" stroke="#2a2a2a" stroke-width="1.15"/>
<rect x="442.70" y="227.68" width="25.10" height="54.22" fill="#C4002A"/>
<rect x="481.20" y="261.17" width="25.00" height="20.73" fill="#34A92F"/>
<line x1="455.20" y1="285.10" x2="455.20" y2="288.20" stroke="#2a2a2a" stroke-width="1.15"/>
<line x1="493.70" y1="285.10" x2="493.70" y2="288.20" stroke="#2a2a2a" stroke-width="1.15"/>
<text x="455.10" y="225.14" font-size="6.5" text-anchor="middle" fill="#3a3a3a" stroke="#3a3a3a" stroke-width="0.12">30.6%</text>
<text x="493.70" y="258.64" font-size="6.5" text-anchor="middle" fill="#3a3a3a" stroke="#3a3a3a" stroke-width="0.12">11.7%</text>
<text x="474.60" y="209.94" font-size="6.5" text-anchor="middle" fill="#3a3a3a" stroke="#3a3a3a" stroke-width="0.12">P = .03</text>
<text x="455.20" y="296.74" font-size="6.5" text-anchor="middle" fill="#3a3a3a" stroke="#3a3a3a" stroke-width="0.12">RA</text>
<text x="455.20" y="304.84" font-size="6.5" text-anchor="middle" fill="#3a3a3a" stroke="#3a3a3a" stroke-width="0.12">(n = 36)</text>
<text x="493.70" y="296.74" font-size="6.5" text-anchor="middle" fill="#3a3a3a" stroke="#3a3a3a" stroke-width="0.12">Other AIRD</text>
<text x="493.70" y="304.84" font-size="6.5" text-anchor="middle" fill="#3a3a3a" stroke="#3a3a3a" stroke-width="0.12">(n = 60)</text>
<text transform="translate(10.60 354.83) scale(0.925 1)" x="0" y="0" font-size="10.99" font-weight="bold" fill="#000" stroke="#000" stroke-width="0.45">G</text>
<line x1="35.40" y1="362.50" x2="35.40" y2="465.70" stroke="#2a2a2a" stroke-width="1.15"/>
<line x1="32.40" y1="460.80" x2="35.40" y2="460.80" stroke="#2a2a2a" stroke-width="1.15"/>
<text x="29.60" y="463.14" font-size="6.5" text-anchor="end" fill="#3a3a3a" stroke="#3a3a3a" stroke-width="0.12">0</text>
<line x1="32.40" y1="436.80" x2="35.40" y2="436.80" stroke="#2a2a2a" stroke-width="1.15"/>
<text x="29.60" y="439.14" font-size="6.5" text-anchor="end" fill="#3a3a3a" stroke="#3a3a3a" stroke-width="0.12">10</text>
<line x1="32.40" y1="412.80" x2="35.40" y2="412.80" stroke="#2a2a2a" stroke-width="1.15"/>
<text x="29.60" y="415.14" font-size="6.5" text-anchor="end" fill="#3a3a3a" stroke="#3a3a3a" stroke-width="0.12">20</text>
<line x1="32.40" y1="388.80" x2="35.40" y2="388.80" stroke="#2a2a2a" stroke-width="1.15"/>
<text x="29.60" y="391.14" font-size="6.5" text-anchor="end" fill="#3a3a3a" stroke="#3a3a3a" stroke-width="0.12">30</text>
<line x1="32.40" y1="364.80" x2="35.40" y2="364.80" stroke="#2a2a2a" stroke-width="1.15"/>
<text x="29.60" y="367.14" font-size="6.5" text-anchor="end" fill="#3a3a3a" stroke="#3a3a3a" stroke-width="0.12">40</text>
<text x="14.50" y="416.63" font-size="7.3" text-anchor="middle" fill="#3a3a3a" stroke="#3a3a3a" stroke-width="0.12" textLength="93.60" lengthAdjust="spacingAndGlyphs" transform="rotate(-90 14.50 414.00)">Percentage of cases with <tspan font-style="italic">IDH</tspan><tspan font-size="4.8" dy="-2.6">mut</tspan></text>
<line x1="34.80" y1="465.20" x2="191.40" y2="465.20" stroke="#2a2a2a" stroke-width="1.15"/>
<rect x="40.00" y="387.36" width="17.00" height="73.44" fill="#C4002A"/>
<line x1="48.50" y1="465.20" x2="48.50" y2="468.50" stroke="#2a2a2a" stroke-width="1.15"/>
<text x="48.50" y="384.20" font-size="6.5" text-anchor="middle" fill="#3a3a3a" stroke="#3a3a3a" stroke-width="0.12">30.6%</text>
<text x="51.50" y="476.00" font-size="7.5" text-anchor="end" fill="#3a3a3a" stroke="#3a3a3a" stroke-width="0.12" transform="rotate(-45 51.50 476.00)" textLength="30.80" lengthAdjust="spacingAndGlyphs">RA (n = 36)</text>
<rect x="66.10" y="412.80" width="17.00" height="48.00" fill="#C4002A"/>
<line x1="74.60" y1="465.20" x2="74.60" y2="468.50" stroke="#2a2a2a" stroke-width="1.15"/>
<text x="74.60" y="409.64" font-size="6.5" text-anchor="middle" fill="#3a3a3a" stroke="#3a3a3a" stroke-width="0.12">20%</text>
<text x="77.60" y="476.00" font-size="7.5" text-anchor="end" fill="#3a3a3a" stroke="#3a3a3a" stroke-width="0.12" transform="rotate(-45 77.60 476.00)" textLength="49.90" lengthAdjust="spacingAndGlyphs">Vasculitis (n = 15)</text>
<rect x="92.10" y="427.20" width="17.00" height="33.60" fill="#C4002A"/>
<line x1="100.60" y1="465.20" x2="100.60" y2="468.50" stroke="#2a2a2a" stroke-width="1.15"/>
<text x="100.60" y="424.04" font-size="6.5" text-anchor="middle" fill="#3a3a3a" stroke="#3a3a3a" stroke-width="0.12">14%</text>
<text x="103.60" y="476.00" font-size="7.5" text-anchor="end" fill="#3a3a3a" stroke="#3a3a3a" stroke-width="0.12" transform="rotate(-45 103.60 476.00)" textLength="36.30" lengthAdjust="spacingAndGlyphs">PMR (n = 14)</text>
<rect x="118.10" y="434.16" width="17.00" height="26.64" fill="#C4002A"/>
<line x1="126.60" y1="465.20" x2="126.60" y2="468.50" stroke="#2a2a2a" stroke-width="1.15"/>
<text x="126.60" y="431.00" font-size="6.5" text-anchor="middle" fill="#3a3a3a" stroke="#3a3a3a" stroke-width="0.12">11.1%</text>
<text x="129.60" y="476.00" font-size="7.5" text-anchor="end" fill="#3a3a3a" stroke="#3a3a3a" stroke-width="0.12" transform="rotate(-45 129.60 476.00)" textLength="50.30" lengthAdjust="spacingAndGlyphs">Non RA-IA (n = 9)</text>
<rect x="144.10" y="446.64" width="17.00" height="14.16" fill="#C4002A"/>
<line x1="152.60" y1="465.20" x2="152.60" y2="468.50" stroke="#2a2a2a" stroke-width="1.15"/>
<text x="152.60" y="443.48" font-size="6.5" text-anchor="middle" fill="#3a3a3a" stroke="#3a3a3a" stroke-width="0.12">5.9%</text>
<text x="155.60" y="476.00" font-size="7.5" text-anchor="end" fill="#3a3a3a" stroke="#3a3a3a" stroke-width="0.12" transform="rotate(-45 155.60 476.00)" textLength="74.00" lengthAdjust="spacingAndGlyphs">Inflammatory CTD (n = 17)</text>
<line x1="178.60" y1="465.20" x2="178.60" y2="468.50" stroke="#2a2a2a" stroke-width="1.15"/>
<text x="178.60" y="459.44" font-size="6.5" text-anchor="middle" fill="#3a3a3a" stroke="#3a3a3a" stroke-width="0.12">0%</text>
<text x="181.60" y="476.00" font-size="7.5" text-anchor="end" fill="#3a3a3a" stroke="#3a3a3a" stroke-width="0.12" transform="rotate(-45 181.60 476.00)" textLength="47.70" lengthAdjust="spacingAndGlyphs">Sarcoidosis (n = 3)</text>
<text transform="translate(208.18 354.83) scale(0.876 1)" x="0" y="0" font-size="10.99" font-weight="bold" fill="#000" stroke="#000" stroke-width="0.45">H</text>
<line x1="232.50" y1="363.50" x2="232.50" y2="465.70" stroke="#2a2a2a" stroke-width="1.15"/>
<line x1="229.50" y1="461.90" x2="232.50" y2="461.90" stroke="#2a2a2a" stroke-width="1.15"/>
<text x="227.60" y="464.24" font-size="6.5" text-anchor="end" fill="#3a3a3a" stroke="#3a3a3a" stroke-width="0.12">0</text>
<line x1="229.50" y1="442.70" x2="232.50" y2="442.70" stroke="#2a2a2a" stroke-width="1.15"/>
<text x="227.60" y="445.04" font-size="6.5" text-anchor="end" fill="#3a3a3a" stroke="#3a3a3a" stroke-width="0.12">10</text>
<line x1="229.50" y1="423.50" x2="232.50" y2="423.50" stroke="#2a2a2a" stroke-width="1.15"/>
<text x="227.60" y="425.84" font-size="6.5" text-anchor="end" fill="#3a3a3a" stroke="#3a3a3a" stroke-width="0.12">20</text>
<line x1="229.50" y1="404.30" x2="232.50" y2="404.30" stroke="#2a2a2a" stroke-width="1.15"/>
<text x="227.60" y="406.64" font-size="6.5" text-anchor="end" fill="#3a3a3a" stroke="#3a3a3a" stroke-width="0.12">30</text>
<line x1="229.50" y1="385.10" x2="232.50" y2="385.10" stroke="#2a2a2a" stroke-width="1.15"/>
<text x="227.60" y="387.44" font-size="6.5" text-anchor="end" fill="#3a3a3a" stroke="#3a3a3a" stroke-width="0.12">40</text>
<line x1="229.50" y1="365.90" x2="232.50" y2="365.90" stroke="#2a2a2a" stroke-width="1.15"/>
<text x="227.60" y="368.24" font-size="6.5" text-anchor="end" fill="#3a3a3a" stroke="#3a3a3a" stroke-width="0.12">50</text>
<line x1="230.30" y1="452.30" x2="232.50" y2="452.30" stroke="#2a2a2a" stroke-width="1.0"/>
<line x1="230.30" y1="433.10" x2="232.50" y2="433.10" stroke="#2a2a2a" stroke-width="1.0"/>
<line x1="230.30" y1="413.90" x2="232.50" y2="413.90" stroke="#2a2a2a" stroke-width="1.0"/>
<line x1="230.30" y1="394.70" x2="232.50" y2="394.70" stroke="#2a2a2a" stroke-width="1.0"/>
<line x1="230.30" y1="375.50" x2="232.50" y2="375.50" stroke="#2a2a2a" stroke-width="1.0"/>
<text x="211.30" y="417.63" font-size="7.3" text-anchor="middle" fill="#3a3a3a" stroke="#3a3a3a" stroke-width="0.12" textLength="95.00" lengthAdjust="spacingAndGlyphs" transform="rotate(-90 211.30 415.00)">Percentage of cases with <tspan font-style="italic">IDH</tspan><tspan font-size="4.8" dy="-2.6">mut</tspan></text>
<line x1="231.90" y1="465.20" x2="312.00" y2="465.20" stroke="#2a2a2a" stroke-width="1.15"/>
<rect x="239.30" y="376.65" width="26.50" height="85.25" fill="#C4002A"/>
<line x1="252.50" y1="465.20" x2="252.50" y2="468.40" stroke="#2a2a2a" stroke-width="1.15"/>
<line x1="293.00" y1="465.20" x2="293.00" y2="468.40" stroke="#2a2a2a" stroke-width="1.15"/>
<text x="272.70" y="363.94" font-size="6.5" text-anchor="middle" fill="#3a3a3a" stroke="#3a3a3a" stroke-width="0.12">P = .009</text>
<text x="252.50" y="374.14" font-size="6.5" text-anchor="middle" fill="#3a3a3a" stroke="#3a3a3a" stroke-width="0.12">44.4%</text>
<text x="292.50" y="454.84" font-size="6.5" text-anchor="middle" fill="#3a3a3a" stroke="#3a3a3a" stroke-width="0.12">0%</text>
<text x="252.50" y="477.34" font-size="6.5" text-anchor="middle" fill="#3a3a3a" stroke="#3a3a3a" stroke-width="0.12">Seronegative</text>
<text x="252.50" y="484.84" font-size="6.5" text-anchor="middle" fill="#3a3a3a" stroke="#3a3a3a" stroke-width="0.12">(n = 18)</text>
<text x="293.00" y="477.34" font-size="6.5" text-anchor="middle" fill="#3a3a3a" stroke="#3a3a3a" stroke-width="0.12">Seropositive</text>
<text x="293.00" y="484.84" font-size="6.5" text-anchor="middle" fill="#3a3a3a" stroke="#3a3a3a" stroke-width="0.12">(n = 13)</text>
<line x1="248.80" y1="489.30" x2="302.00" y2="489.30" stroke="#2a2a2a" stroke-width="1.15"/>
<text x="275.80" y="499.60" font-size="7.5" text-anchor="middle" fill="#3a3a3a" stroke="#3a3a3a" stroke-width="0.12" textLength="7.80" lengthAdjust="spacingAndGlyphs">RA</text>
<text transform="translate(328.33 354.83) scale(0.670 1)" x="0" y="0" font-size="10.99" font-weight="bold" fill="#000" stroke="#000" stroke-width="0.45">I</text>
<line x1="356.60" y1="363.70" x2="356.60" y2="465.70" stroke="#2a2a2a" stroke-width="1.15"/>
<line x1="353.60" y1="460.90" x2="356.60" y2="460.90" stroke="#2a2a2a" stroke-width="1.15"/>
<text x="351.20" y="463.24" font-size="6.5" text-anchor="end" fill="#3a3a3a" stroke="#3a3a3a" stroke-width="0.12">0</text>
<line x1="353.60" y1="437.20" x2="356.60" y2="437.20" stroke="#2a2a2a" stroke-width="1.15"/>
<text x="351.20" y="439.54" font-size="6.5" text-anchor="end" fill="#3a3a3a" stroke="#3a3a3a" stroke-width="0.12">25</text>
<line x1="353.60" y1="413.50" x2="356.60" y2="413.50" stroke="#2a2a2a" stroke-width="1.15"/>
<text x="351.20" y="415.84" font-size="6.5" text-anchor="end" fill="#3a3a3a" stroke="#3a3a3a" stroke-width="0.12">50</text>
<line x1="353.60" y1="389.80" x2="356.60" y2="389.80" stroke="#2a2a2a" stroke-width="1.15"/>
<text x="351.20" y="392.14" font-size="6.5" text-anchor="end" fill="#3a3a3a" stroke="#3a3a3a" stroke-width="0.12">75</text>
<line x1="353.60" y1="366.10" x2="356.60" y2="366.10" stroke="#2a2a2a" stroke-width="1.15"/>
<text x="351.20" y="368.44" font-size="6.5" text-anchor="end" fill="#3a3a3a" stroke="#3a3a3a" stroke-width="0.12">100</text>
<line x1="354.40" y1="449.05" x2="356.60" y2="449.05" stroke="#2a2a2a" stroke-width="1.0"/>
<line x1="354.40" y1="425.35" x2="356.60" y2="425.35" stroke="#2a2a2a" stroke-width="1.0"/>
<line x1="354.40" y1="401.65" x2="356.60" y2="401.65" stroke="#2a2a2a" stroke-width="1.0"/>
<line x1="354.40" y1="377.95" x2="356.60" y2="377.95" stroke="#2a2a2a" stroke-width="1.0"/>
<text x="332.00" y="416.63" font-size="7.3" text-anchor="middle" fill="#3a3a3a" stroke="#3a3a3a" stroke-width="0.12" textLength="93.60" lengthAdjust="spacingAndGlyphs" transform="rotate(-90 332.00 414.00)">Percentage of cases with <tspan font-style="italic">IDH</tspan><tspan font-size="4.8" dy="-2.6">mut</tspan></text>
<line x1="356.00" y1="465.20" x2="417.70" y2="465.20" stroke="#2a2a2a" stroke-width="1.15"/>
<rect x="360.00" y="366.10" width="23.80" height="23.70" fill="#34A92F"/>
<rect x="360.00" y="389.80" width="23.80" height="71.10" fill="#C4002A"/>
<rect x="390.30" y="366.10" width="24.00" height="94.80" fill="#34A92F"/>
<line x1="376.50" y1="465.20" x2="376.50" y2="468.50" stroke="#2a2a2a" stroke-width="1.15"/>
<line x1="403.10" y1="465.20" x2="403.10" y2="468.50" stroke="#2a2a2a" stroke-width="1.15"/>
<text x="387.70" y="363.04" font-size="6.5" text-anchor="middle" fill="#3a3a3a" stroke="#3a3a3a" stroke-width="0.12">P = .009</text>
<text x="378.60" y="477.30" font-size="7.5" text-anchor="end" fill="#3a3a3a" stroke="#3a3a3a" stroke-width="0.12" transform="rotate(-45 378.60 477.30)" textLength="34.60" lengthAdjust="spacingAndGlyphs">Seronegative</text>
<text x="384.80" y="483.40" font-size="7.5" text-anchor="end" fill="#3a3a3a" stroke="#3a3a3a" stroke-width="0.12" transform="rotate(-45 384.80 483.40)" textLength="25.50" lengthAdjust="spacingAndGlyphs">RA (n = 8)</text>
<text x="406.30" y="477.00" font-size="7.5" text-anchor="end" fill="#3a3a3a" stroke="#3a3a3a" stroke-width="0.12" transform="rotate(-45 406.30 477.00)" textLength="31.30" lengthAdjust="spacingAndGlyphs">Other AIRD</text>
<text x="413.00" y="481.70" font-size="7.5" text-anchor="end" fill="#3a3a3a" stroke="#3a3a3a" stroke-width="0.12" transform="rotate(-45 413.00 481.70)" textLength="16.50" lengthAdjust="spacingAndGlyphs">(n = 7)</text>
<rect x="352.80" y="508.20" width="6.00" height="5.40" fill="#34A92F"/>
<text x="362.70" y="513.34" font-size="6.5" text-anchor="start" fill="#3a3a3a" stroke="#3a3a3a" stroke-width="0.12" textLength="21.50" lengthAdjust="spacingAndGlyphs"><tspan font-style="italic">IDH2</tspan><tspan font-size="4.2" dy="-2.2">mut</tspan></text>
<rect x="390.40" y="508.20" width="6.00" height="5.40" fill="#C4002A"/>
<text x="399.60" y="513.34" font-size="6.5" text-anchor="start" fill="#3a3a3a" stroke="#3a3a3a" stroke-width="0.12" textLength="22.50" lengthAdjust="spacingAndGlyphs"><tspan font-style="italic">IDH1</tspan><tspan font-size="4.2" dy="-2.2">mut</tspan></text>
<text transform="translate(433.38 354.83) scale(0.839 1)" x="0" y="0" font-size="10.99" font-weight="bold" fill="#000" stroke="#000" stroke-width="0.45">J</text>
<line x1="461.80" y1="363.30" x2="461.80" y2="466.00" stroke="#2a2a2a" stroke-width="1.6"/>
<line x1="458.80" y1="460.60" x2="461.80" y2="460.60" stroke="#2a2a2a" stroke-width="1.15"/>
<text x="456.20" y="462.94" font-size="6.5" text-anchor="end" fill="#3a3a3a" stroke="#3a3a3a" stroke-width="0.12">0</text>
<line x1="458.80" y1="441.70" x2="461.80" y2="441.70" stroke="#2a2a2a" stroke-width="1.15"/>
<text x="456.20" y="444.04" font-size="6.5" text-anchor="end" fill="#3a3a3a" stroke="#3a3a3a" stroke-width="0.12">20</text>
<line x1="458.80" y1="422.80" x2="461.80" y2="422.80" stroke="#2a2a2a" stroke-width="1.15"/>
<text x="456.20" y="425.14" font-size="6.5" text-anchor="end" fill="#3a3a3a" stroke="#3a3a3a" stroke-width="0.12">40</text>
<line x1="458.80" y1="403.90" x2="461.80" y2="403.90" stroke="#2a2a2a" stroke-width="1.15"/>
<text x="456.20" y="406.24" font-size="6.5" text-anchor="end" fill="#3a3a3a" stroke="#3a3a3a" stroke-width="0.12">60</text>
<line x1="458.80" y1="385.00" x2="461.80" y2="385.00" stroke="#2a2a2a" stroke-width="1.15"/>
<text x="456.20" y="387.34" font-size="6.5" text-anchor="end" fill="#3a3a3a" stroke="#3a3a3a" stroke-width="0.12">80</text>
<line x1="458.80" y1="366.10" x2="461.80" y2="366.10" stroke="#2a2a2a" stroke-width="1.15"/>
<text x="456.20" y="368.44" font-size="6.5" text-anchor="end" fill="#3a3a3a" stroke="#3a3a3a" stroke-width="0.12">100</text>
<text x="437.70" y="416.40" font-size="7.5" text-anchor="middle" fill="#3a3a3a" stroke="#3a3a3a" stroke-width="0.12" textLength="30.00" lengthAdjust="spacingAndGlyphs" transform="rotate(-90 437.70 413.70)">% of cases</text>
<line x1="461.00" y1="465.20" x2="502.20" y2="465.20" stroke="#2a2a2a" stroke-width="1.15"/>
<rect x="468.50" y="366.10" width="27.20" height="31.19" fill="#C4002A"/>
<rect x="468.50" y="397.29" width="27.20" height="27.41" fill="#34A92F"/>
<rect x="468.50" y="424.69" width="27.20" height="35.91" fill="#134B8C"/>
<line x1="481.80" y1="465.20" x2="481.80" y2="468.60" stroke="#2a2a2a" stroke-width="1.15"/>
<text x="482.00" y="383.94" font-size="6.5" text-anchor="middle" fill="#fff" stroke="#fff" stroke-width="0">33%</text>
<text x="482.00" y="413.24" font-size="6.5" text-anchor="middle" fill="#fff" stroke="#fff" stroke-width="0">29%</text>
<text x="482.00" y="444.94" font-size="6.5" text-anchor="middle" fill="#fff" stroke="#fff" stroke-width="0">38%</text>
<text x="482.00" y="477.14" font-size="6.5" text-anchor="middle" fill="#3a3a3a" stroke="#3a3a3a" stroke-width="0.12" textLength="40.40" lengthAdjust="spacingAndGlyphs"><tspan font-style="italic">IDH</tspan><tspan font-size="4.2" dy="-2.2">mut</tspan><tspan dy="2.2"> CMML</tspan></text>
<text x="481.80" y="485.34" font-size="6.5" text-anchor="middle" fill="#3a3a3a" stroke="#3a3a3a" stroke-width="0.12">(n = 21)</text>
<rect x="452.90" y="489.70" width="6.10" height="5.50" fill="#C4002A"/>
<text x="461.80" y="494.74" font-size="6.5" text-anchor="start" fill="#3a3a3a" stroke="#3a3a3a" stroke-width="0.12" textLength="14.70" lengthAdjust="spacingAndGlyphs">AIRD</text>
<rect x="452.90" y="500.00" width="6.10" height="5.50" fill="#34A92F"/>
<text x="461.80" y="505.04" font-size="6.5" text-anchor="start" fill="#3a3a3a" stroke="#3a3a3a" stroke-width="0.12" textLength="16.90" lengthAdjust="spacingAndGlyphs">Other</text>
<text x="461.80" y="512.74" font-size="6.5" text-anchor="start" fill="#3a3a3a" stroke="#3a3a3a" stroke-width="0.12" textLength="48.10" lengthAdjust="spacingAndGlyphs">autoimmune and</text>
<text x="461.80" y="520.34" font-size="6.5" text-anchor="start" fill="#3a3a3a" stroke="#3a3a3a" stroke-width="0.12" textLength="49.80" lengthAdjust="spacingAndGlyphs">autoinflammatory</text>
<rect x="452.90" y="525.30" width="6.10" height="5.40" fill="#134B8C"/>
<text x="461.80" y="530.24" font-size="6.5" text-anchor="start" fill="#3a3a3a" stroke="#3a3a3a" stroke-width="0.12" textLength="46.10" lengthAdjust="spacingAndGlyphs">No autoimmune</text>
<rect x="0.5" y="0.5" width="519" height="537" fill="none" stroke="#686868" stroke-width="1"/>
</svg>
</body></html>
